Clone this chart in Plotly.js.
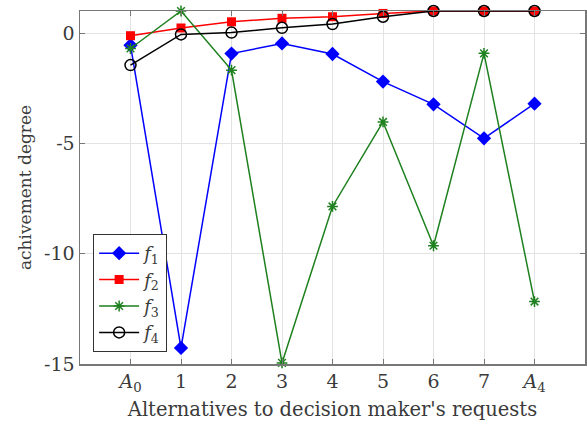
<!DOCTYPE html>
<html>
<head>
<meta charset="utf-8">
<script src="https://cdn.plot.ly/plotly-3.0.1.min.js"></script>
<style>html,body{margin:0;padding:0;background:#fff;}#chart{width:587px;height:425px;}</style>
</head>
<body>
<div id="chart"></div>
<script>
var xPos = [0, 1, 2, 3, 4, 5, 6, 7, 8];
var xLabels = ['<i>A</i><sub>0</sub>', '1', '2', '3', '4', '5', '6', '7', '<i>A</i><sub>4</sub>'];
var f1 = [-0.55, -14.27, -0.93, -0.47, -0.95, -2.2, -3.23, -4.77, -3.2];
var f2 = [-0.12, 0.23, 0.51, 0.67, 0.74, 0.89, 1.0, 1.0, 1.0];
var f3 = [-0.7, 1.0, -1.68, -14.95, -7.86, -4.03, -9.64, -0.92, -12.17];
var f4 = [-1.45, -0.06, 0.02, 0.24, 0.41, 0.74, 1.0, 1.0, 1.0];
var yTicks = [0, -5, -10, -15];
var yTickText = ['0', '-5', '-10', '-15'];
var names = ['<i>f</i><sub>1</sub>', '<i>f</i><sub>2</sub>', '<i>f</i><sub>3</sub>', '<i>f</i><sub>4</sub>'];

var traces = [
  {x: xPos, y: f1, name: names[0], mode: 'lines+markers', cliponaxis: false,
   line: {color: '#0000ff', width: 1.5},
   marker: {symbol: 'diamond', size: 11, color: '#0000ff'}},
  {x: xPos, y: f2, name: names[1], mode: 'lines+markers', cliponaxis: false,
   line: {color: '#ff0000', width: 1.5},
   marker: {symbol: 'square', size: 9, color: '#ff0000'}},
  {x: xPos, y: f3, name: names[2], mode: 'lines+markers', cliponaxis: false,
   line: {color: '#1e801e', width: 1.5},
   marker: {symbol: 'asterisk-open', size: 9, color: '#1e801e', line: {color: '#1e801e', width: 1.5}}},
  {x: xPos, y: f4, name: names[3], mode: 'lines+markers', cliponaxis: false,
   line: {color: '#000000', width: 1.5},
   marker: {symbol: 'circle-open', size: 11, color: '#000000', line: {color: '#000000', width: 1.5}}}
];

var fam = '"DejaVu Serif", "Liberation Serif", serif';
var txt = '#3a3a3a';
var layout = {
  width: 587, height: 425,
  margin: {l: 80, r: 2, t: 11, b: 61},
  paper_bgcolor: '#ffffff', plot_bgcolor: '#ffffff',
  font: {family: fam, size: 18, color: txt},
  showlegend: true,
  legend: {x: 0.026, y: 0.034, xanchor: 'left', yanchor: 'bottom',
    bgcolor: '#ffffff', bordercolor: '#333333', borderwidth: 1,
    font: {family: fam, size: 18, color: txt},
    tracegroupgap: 0, itemwidth: 40},
  xaxis: {
    range: [-1, 9], tickmode: 'array', tickvals: xPos, ticktext: xLabels,
    showgrid: true, gridcolor: '#e3e3e3', gridwidth: 1, zeroline: false,
    showline: true, linecolor: '#777777', linewidth: 1.5, mirror: 'ticks',
    ticks: 'inside', ticklen: 5, tickcolor: '#777777',
    tickfont: {family: fam, size: 19, color: txt},
    title: {text: "Alternatives to decision maker's requests", standoff: 8,
      font: {family: fam, size: 19.5, color: txt}}
  },
  yaxis: {
    range: [-15, 1], tickmode: 'array', tickvals: yTicks, ticktext: yTickText,
    showgrid: true, gridcolor: '#e3e3e3', gridwidth: 1, zeroline: false,
    showline: true, linecolor: '#777777', linewidth: 1.5, mirror: 'ticks',
    ticks: 'inside', ticklen: 5, tickcolor: '#777777',
    tickfont: {family: fam, size: 19, color: txt},
    title: {text: 'achivement degree', standoff: 8,
      font: {family: fam, size: 17, color: txt}}
  }
};
Plotly.newPlot('chart', traces, layout, {displayModeBar: false, staticPlot: true});
</script>
</body>
</html>
